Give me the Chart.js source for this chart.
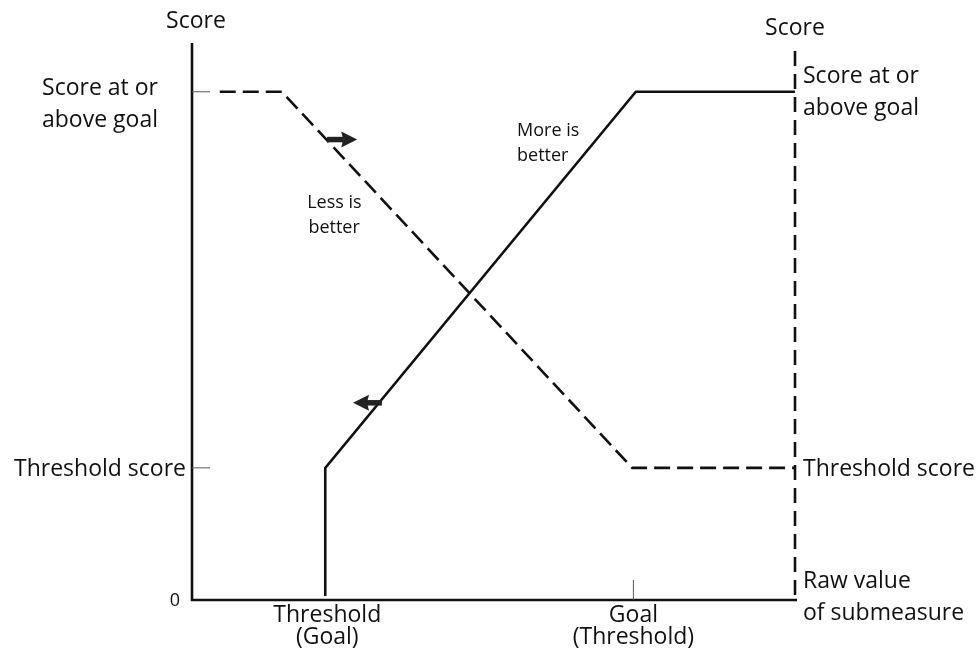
<!DOCTYPE html>
<html>
<head>
<meta charset="utf-8">
<script src="https://cdn.jsdelivr.net/npm/chart.js@4/dist/chart.umd.min.js"></script>
<style>
html, body { margin: 0; background: #fff; }
</style>
</head>
<body>
<canvas id="myChart" width="979" height="654"></canvas>
<script>
// raw value runs 0..100 along x, score runs 0..100 up y (100 = score at goal)
var xThreshold = 22.1;
var xGoal = 73.2;
var scoreThreshold = 26;
var scoreGoal = 100;

// "more is better" (solid) and "less is better" (dashed)
var moreX = [22.1, 22.1, 73.6, 100];
var moreY = [0.8, 26, 100, 100];
var lessX = [4.6, 14.9, 73.0, 100];
var lessY = [100, 100, 26, 26];

// little direction arrows: tail x, tip x, score
var arrowTail = [22.4, 31.5];
var arrowTip = [27.4, 26.7];
var arrowScore = [90.6, 38.8];

var leftTickLabels = [['Score at or', 'above goal'], ['Threshold score'], ['0']];
var rightTickLabels = [['Score at or', 'above goal'], ['Threshold score'], ['Raw value', 'of submeasure']];
var bottomLabels = [['Threshold', '(Goal)'], ['Goal', '(Threshold)']];

function pts(xs, ys) {
	var out = [];
	for (var i in xs) {
		out.push({x: xs[i], y: ys[i]});
	}
	return out;
}

var MAIN_FONT = '23px "Open Sans"';
var SMALL_FONT = '18px "Open Sans"';

var decor = {
	id: 'decor',
	afterDatasetsDraw: function(chart) {
		var ctx = chart.ctx;
		var xs = chart.scales.x, ys = chart.scales.y;
		var x0 = xs.getPixelForValue(0), x1 = xs.getPixelForValue(100);
		var y0 = ys.getPixelForValue(0), yTop = chart.chartArea.top;
		var yT = ys.getPixelForValue(scoreThreshold), yG = ys.getPixelForValue(scoreGoal);
		var xT = xs.getPixelForValue(xThreshold), xGl = xs.getPixelForValue(xGoal);

		ctx.save();
		// axes
		ctx.strokeStyle = '#111';
		ctx.lineWidth = 2.6;
		ctx.setLineDash([]);
		ctx.beginPath();
		ctx.moveTo(x0, yTop);
		ctx.lineTo(x0, y0);
		ctx.lineTo(x1 + 2, y0);
		ctx.stroke();

		// right dashed axis
		ctx.setLineDash([15, 8]);
		ctx.beginPath();
		ctx.moveTo(x1, yTop + 8);
		ctx.lineTo(x1, y0 - 1);
		ctx.stroke();
		ctx.setLineDash([]);

		// thin ticks
		ctx.strokeStyle = '#555';
		ctx.lineWidth = 1;
		ctx.beginPath();
		ctx.moveTo(x0, yG); ctx.lineTo(x0 + 18, yG);
		ctx.moveTo(x0, yT); ctx.lineTo(x0 + 18, yT);
		ctx.moveTo(xGl, y0); ctx.lineTo(xGl, y0 - 20);
		ctx.stroke();

		// arrows
		ctx.fillStyle = '#222';
		ctx.strokeStyle = '#222';
		for (var i in arrowTail) {
			var tx = xs.getPixelForValue(arrowTail[i]);
			var hx = xs.getPixelForValue(arrowTip[i]);
			var ay = ys.getPixelForValue(arrowScore[i]);
			var dir = hx > tx ? 1 : -1;
			var baseX = hx - dir * 16;
			ctx.lineWidth = 5.5;
			ctx.beginPath();
			ctx.moveTo(tx, ay);
			ctx.lineTo(baseX + dir * 2, ay);
			ctx.stroke();
			ctx.beginPath();
			ctx.moveTo(hx, ay);
			ctx.lineTo(baseX, ay - 8);
			ctx.lineTo(baseX + dir * 2, ay);
			ctx.lineTo(baseX, ay + 8);
			ctx.closePath();
			ctx.fill();
		}

		// texts
		ctx.fillStyle = '#111';
		ctx.textBaseline = 'alphabetic';
		ctx.font = MAIN_FONT;
		ctx.textAlign = 'center';
		ctx.fillText('Score', x0 + 4, yTop - 15);
		ctx.fillText('Score', x1, yTop - 8);

		// left labels, centred in the margin
		var lx = x0 - 92;
		var leftY = [yG + 3, yT + 8, y0];
		for (var j in leftTickLabels) {
			var lines = leftTickLabels[j];
			for (var k in lines) {
				if (lines[k] === '0') {
					ctx.font = '18px "Open Sans"';
					ctx.fillText('0', x0 - 17, y0 + 6);
					ctx.font = MAIN_FONT;
				} else {
					ctx.fillText(lines[k], lx, leftY[j] + k * 32);
				}
			}
		}

		// right labels
		ctx.textAlign = 'left';
		var rightY = [yG - 9, yT + 8, y0 - 12];
		for (var j in rightTickLabels) {
			var lines = rightTickLabels[j];
			for (var k in lines) {
				ctx.fillText(lines[k], x1 + 8, rightY[j] + k * 32);
			}
		}

		// bottom category labels
		ctx.textAlign = 'center';
		var bx = [xT + 2, xGl];
		for (var j in bottomLabels) {
			var lines = bottomLabels[j];
			for (var k in lines) {
				ctx.fillText(lines[k], bx[j], y0 + 22 + k * 22);
			}
		}

		// inline notes
		ctx.font = SMALL_FONT;
		ctx.textAlign = 'left';
		ctx.fillText('More is', xs.getPixelForValue(53.9), ys.getPixelForValue(91.3));
		ctx.fillText('better', xs.getPixelForValue(53.9), ys.getPixelForValue(86.4));
		ctx.fillText('Less is', xs.getPixelForValue(19.1), ys.getPixelForValue(77.2));
		ctx.fillText('better', xs.getPixelForValue(19.3), ys.getPixelForValue(72.2));
		ctx.restore();
	}
};

var ctx = document.getElementById('myChart');

var chart = new Chart(ctx, {
	type: 'line',
	data: {
		datasets: [
			{
				label: 'More is better',
				data: pts(moreX, moreY),
				borderColor: '#111',
				borderWidth: 2.6,
				pointRadius: 0,
				fill: false,
				tension: 0,
				clip: false
			},
			{
				label: 'Less is better',
				data: pts(lessX, lessY),
				borderColor: '#111',
				borderWidth: 2.6,
				borderDash: [16, 7],
				pointRadius: 0,
				fill: false,
				tension: 0,
				clip: false
			}
		]
	},
	options: {
		responsive: false,
		animation: false,
		devicePixelRatio: 1,
		layout: {padding: {left: 192, right: 184, top: 43, bottom: 54}},
		plugins: {legend: {display: false}, tooltip: {enabled: false}},
		scales: {
			x: {type: 'linear', min: 0, max: 100, display: false},
			y: {type: 'linear', min: 0, max: 109.6, display: false}
		}
	},
	plugins: [decor]
});
</script>
</body>
</html>
